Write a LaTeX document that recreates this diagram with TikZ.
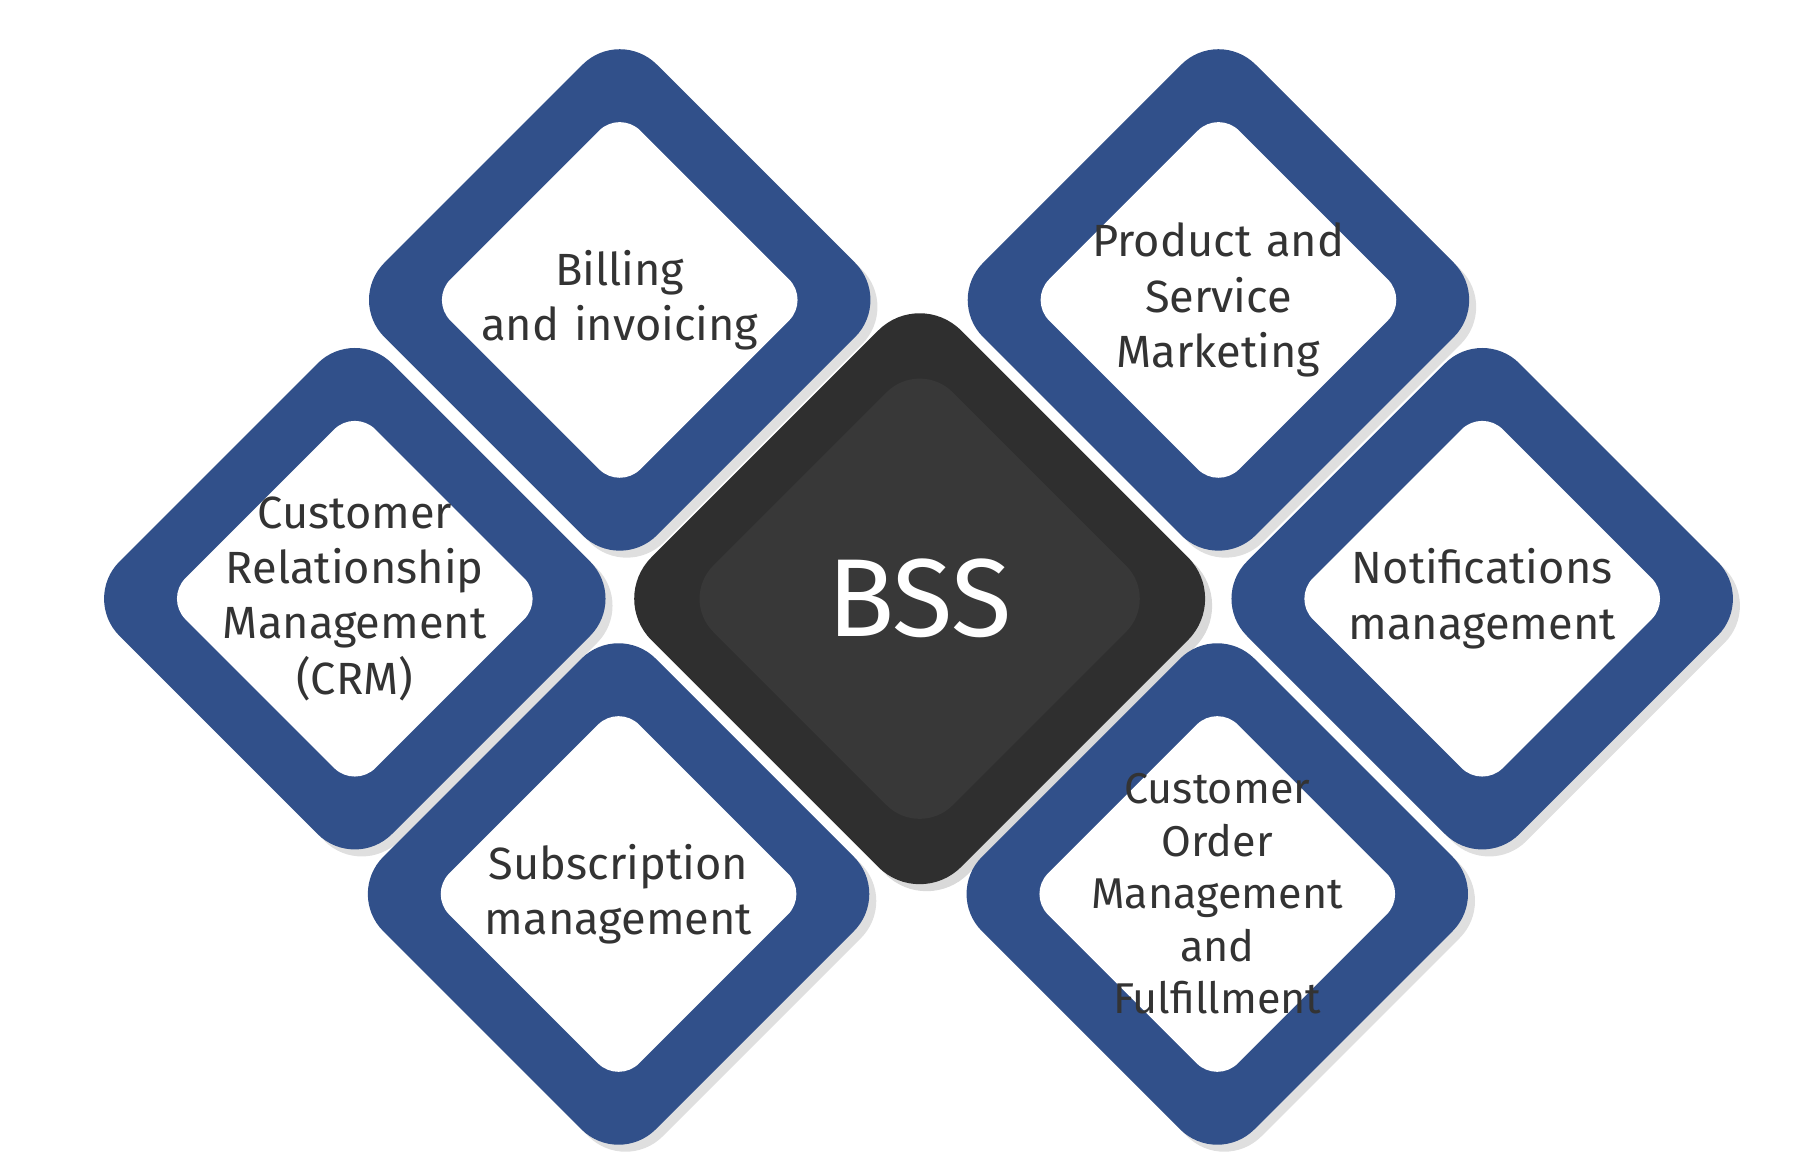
\documentclass[tikz,border=0pt]{standalone}
\usepackage{fontspec}
\setmainfont{Fira Sans}
\usetikzlibrary{positioning,shadows}
\definecolor{bssblue}{HTML}{31508A}
\definecolor{bssdark}{HTML}{2F2F2F}
\definecolor{bsstext}{HTML}{333333}
\tikzset{
  outerbox/.style={rectangle,rotate=45,minimum size=3.3cm,rounded corners=0.45cm,
    fill=bssblue,drop shadow={opacity=0.25,shadow xshift=0.06cm,shadow yshift=-0.06cm}},
  innerbox/.style={rectangle,rotate=45,minimum size=2.3cm,rounded corners=0.25cm,fill=white},
  lbl/.style={align=center,text=bsstext,font=\fontsize{11}{13.5}\selectfont,text width=2.4cm},
}
\begin{document}
\begin{tikzpicture}[x=0.01cm,y=-0.01cm]
\useasboundingbox (0,0) rectangle (1556,1000);
% centre block
\node[rectangle,rotate=45,minimum size=3.75cm,rounded corners=0.5cm,fill=bssdark,
  drop shadow={opacity=0.3,shadow xshift=0.06cm,shadow yshift=-0.06cm}] (bss) at (788,513) {};
\node[rectangle,rotate=45,minimum size=2.9cm,rounded corners=0.4cm,fill=black!78] (bssin) at (bss) {};
\node[text=white,font=\fontsize{27}{30}\selectfont] (bsstxt) at (bss) {BSS};
% outer blocks
\foreach \name/\x/\y in {bill/531/257, prod/1044/257, crm/304/513, notif/1270/513, subs/530/766, order/1043/766}{
  \node[outerbox] (\name) at (\x,\y) {};
  \node[innerbox] (\name-in) at (\x,\y) {};
}
% labels
\node[lbl] at (bill) {Billing\\and invoicing};
\node[lbl] at (prod) {Product and\\Service\\Marketing};
\node[lbl] at (crm) {Customer\\Relationship\\Management\\(CRM)};
\node[lbl] at (notif) {Notifications\\management};
\node[lbl] at (subs) {Subscription\\management};
\node[lbl,font=\fontsize{10.5}{12.8}\selectfont] at (order) {Customer\\Order\\Management\\and\\Fulfillment};
\end{tikzpicture}
\end{document}
